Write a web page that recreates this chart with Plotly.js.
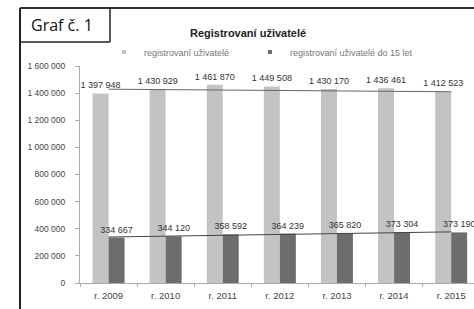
<!DOCTYPE html>
<html><head><meta charset="utf-8">
<script src="https://cdn.plot.ly/plotly-3.0.1.min.js"></script>
<style>html,body{margin:0;padding:0;background:#fff}#c{width:474px;height:309px}</style>
</head><body><div id="c"></div>
<script>
var categories = ['r. 2009','r. 2010','r. 2011','r. 2012','r. 2013','r. 2014','r. 2015'];
var registrovani = [1397948,1430929,1461870,1449508,1430170,1436461,1412523];
var do15 = [334667,344120,358592,364239,365820,373304,373190];
var trendTotal = [1429000,1410000];
var trendDo15 = [339000,377000];
var seriesNames = ['registrovaní uživatelé','registrovaní uživatelé do 15 let'];

var L=80, T=66, W=394, H=217;
function px(x){return (x-L)/W;}
function py(y){return (T+H-y)/H;}

var lab = {family:'Liberation Sans, Arial, sans-serif', size:9, color:'#333'};
var traces = [
 {type:'bar', x:categories, y:registrovani, name:seriesNames[0], showlegend:false,
  marker:{color:'#c3c3c3'}, texttemplate:'%{y:,d}', textposition:'outside', constraintext:'none',
  cliponaxis:false, textfont:lab, hoverinfo:'skip'},
 {type:'bar', x:categories, y:do15, name:seriesNames[1], showlegend:false,
  marker:{color:'#6d6d6d'}, texttemplate:'%{y:,d}', textposition:'outside', constraintext:'none',
  cliponaxis:false, textfont:lab, hoverinfo:'skip'},
 {type:'scatter', mode:'lines', x:[categories[0],categories[6]], y:trendTotal, showlegend:false,
  line:{color:'#666', width:1}, hoverinfo:'skip'},
 {type:'scatter', mode:'lines', x:[categories[0],categories[6]], y:trendDo15, showlegend:false,
  line:{color:'#444', width:1}, hoverinfo:'skip'},
 {type:'scatter', mode:'markers', x:[null], y:[null], name:seriesNames[0], legend:'legend',
  marker:{symbol:'square', size:4, color:'#c3c3c3'}},
 {type:'scatter', mode:'markers', x:[null], y:[null], name:seriesNames[1], legend:'legend2',
  marker:{symbol:'square', size:4, color:'#6d6d6d'}}
];

var legendBase = {orientation:'h', xanchor:'left', y:py(52), yanchor:'middle',
   font:{size:9, color:'#777'}, itemwidth:30, bgcolor:'rgba(0,0,0,0)'};

var layout = {
 width:474, height:309,
 margin:{l:L, r:0, t:T, b:309-T-H, pad:0},
 paper_bgcolor:'#fff', plot_bgcolor:'#fff',
 separators:', ',
 barmode:'group', bargap:0.44, bargroupgap:0,
 font:{family:'Liberation Sans, Arial, sans-serif', size:8, color:'#444'},
 title:{text:'<b>Registrovaní uživatelé</b>', font:{size:11, color:'#222'},
   x:px(190), xanchor:'left', xref:'paper', y:1-33/309, yanchor:'middle', yref:'container'},
 showlegend:true,
 legend:Object.assign({}, legendBase, {x:px(104)}),
 legend2:Object.assign({}, legendBase, {x:px(250)}),
 xaxis:{type:'category', range:[-0.5, 6.4], showline:true, linecolor:'#aaa', linewidth:1,
   ticks:'outside', tickson:'boundaries', ticklen:3, tickcolor:'#aaa', ticklabelstandoff:4,
   tickfont:{size:9.5, color:'#444'}, showgrid:false, zeroline:false, fixedrange:true},
 yaxis:{range:[0,1600000], dtick:200000, tickformat:',d', showline:true, linecolor:'#aaa', linewidth:1,
   ticks:'outside', ticklen:4, tickcolor:'#aaa', ticklabelstandoff:8, tickfont:{size:8.5, color:'#444'},
   showgrid:false, zeroline:false, fixedrange:true},
 shapes:[
  {type:'line', xref:'paper', yref:'paper', x0:px(20), x1:px(480), y0:py(8), y1:py(8), line:{color:'#333', width:2}},
  {type:'line', xref:'paper', yref:'paper', x0:px(20), x1:px(20), y0:py(8), y1:py(315), line:{color:'#222', width:2}},
  {type:'line', xref:'paper', yref:'paper', x0:px(110), x1:px(110), y0:py(8), y1:py(42), line:{color:'#222', width:1.5}},
  {type:'line', xref:'paper', yref:'paper', x0:px(20), x1:px(110), y0:py(42), y1:py(42), line:{color:'#222', width:1.5}}
 ],
 annotations:[
  {text:'Graf č. 1', xref:'paper', yref:'paper', x:px(29), xanchor:'left', y:py(25), yanchor:'middle',
   showarrow:false, font:{family:'Open Sans, Liberation Sans, sans-serif', size:16, color:'#111', weight:500}}
 ]
};
Plotly.newPlot('c', traces, layout, {staticPlot:true, displayModeBar:false});
</script></body></html>
